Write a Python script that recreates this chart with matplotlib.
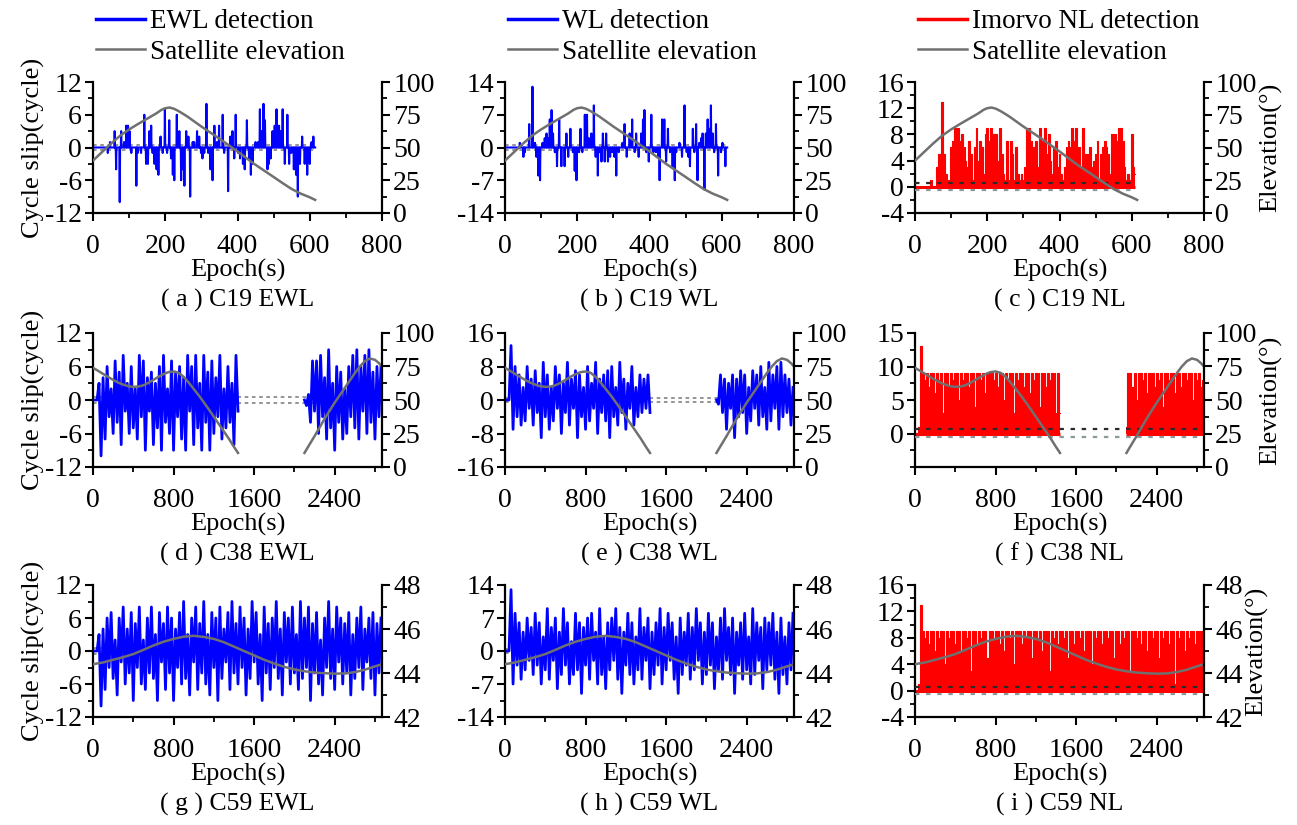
import numpy as np
import matplotlib
matplotlib.use("Agg")
import matplotlib.pyplot as plt
from matplotlib.lines import Line2D
from matplotlib.ticker import MultipleLocator, FixedLocator

plt.rcParams['font.family'] = ['Liberation Serif', 'DejaVu Serif']
plt.rcParams['font.size'] = 18
plt.rcParams['axes.unicode_minus'] = False
plt.rcParams['axes.linewidth'] = 1.6

BLUE = '#0000ff'
RED = '#ff0000'
GRAY = '#707070'

# ---------------- C19 (1 s sampling, 0-615 s) ----------------
c19_end = 615
ewl19_t = [41, 47, 60, 64, 74, 78, 86, 92, 97, 101, 106, 120, 124, 133, 142, 147, 152, 156, 161, 165,
           170, 176, 181, 187, 193, 199, 205, 211, 216, 221, 225, 232, 239, 244, 248, 253, 258, 264, 269, 276,
           280, 288, 294, 299, 303, 308, 314, 319, 325, 331, 336, 343, 349, 359, 363, 374, 380, 386, 391, 395,
           402, 407, 415, 420, 426, 432, 437, 442, 450, 457, 462, 467, 472, 476, 483, 487, 492, 497, 503, 508,
           515, 520, 525, 531, 538, 543, 549, 556, 562, 567, 573, 579, 586, 593, 600, 605, 610]
ewl19_v = [-1, 1, 3, -4, -10, 3, 1, 4, 4, 3, -1, -7, -1, -1, 6, -3, -3, 3, 4, -1,
           -3, -4, -5, 2, -1, 7, -1, 5, -2, -5, -6, 6, 3, -6, -4, -7, 3, 2, -9, 1,
           1, 3, 2, -1, -2, -1, 8, -1, -4, -6, 4, 1, 4, 6, -1, -8, 2, 3, -2, 6,
           -1, -2, -3, -4, 5, -2, -5, -3, 1, 1, 7, 3, 8, 5, -4, -3, -2, 3, 4, 7,
           4, 3, 7, -3, 6, -3, -1, -4, -5, -9, -3, 2, -3, -5, -3, 1, 2]
wl19_t = [41, 51, 55, 67, 76, 83, 87, 92, 97, 104, 110, 115, 119, 124, 129, 133, 138, 144, 150, 156,
          165, 170, 175, 181, 188, 193, 198, 205, 209, 214, 221, 227, 232, 239, 246, 251, 257, 262, 267, 271,
          276, 280, 285, 291, 297, 303, 308, 315, 325, 331, 337, 345, 352, 359, 363, 370, 377, 382, 386, 391,
          398, 405, 411, 418, 424, 428, 435, 441, 446, 451, 457, 464, 470, 474, 483, 490, 497, 503, 508, 512,
          520, 524, 529, 533, 538, 543, 547, 552, 556, 561, 566, 570, 575, 579, 584, 590, 598, 602, 610]
wl19_v = [1, -2, -1, 5, 13, 1, -2, -6, -7, 1, 2, 3, 2, 6, 8, 3, -1, -4, 6, -4,
          -4, 3, -2, 4, -1, -5, -7, -1, 4, -1, 7, 7, 2, 3, 9, -2, -6, -1, -3, 3,
          -3, 3, -3, -2, -1, -2, -6, -1, 1, 5, -2, 3, 6, -1, 3, -2, 3, 6, 8, -1,
          -3, 7, -1, -1, -2, -7, 6, 6, -3, 4, -1, -4, -7, -1, 1, -2, 9, -1, -2, -4,
          4, -1, 5, -7, 1, 2, 3, -9, 3, 6, 4, 9, 3, -1, 5, -6, -1, 1, -4]
nl19_step = 5
nl19_v = [0, 0, 0, 0, 0, 0, 0, 0, 0, 1, 0, 0, 3, 5, 5, 13, 5, 2, 1, 1,
          6, 7, 9, 8, 9, 7, 8, 6, 4, 3, 7, 5, 1, 6, 9, 4, 7, 6, 2, 8,
          9, 7, 9, 8, 8, 8, 4, 9, 5, 2, 1, 7, 1, 7, 5, 1, 6, 2, 1, 2,
          1, 3, 9, 9, 7, 3, 6, 7, 3, 9, 6, 7, 9, 5, 8, 4, 2, 6, 7, 3,
          5, 2, 1, 3, 6, 7, 6, 9, 7, 9, 4, 6, 3, 9, 5, 4, 5, 6, 3, 4,
          5, 7, 1, 5, 6, 7, 6, 5, 2, 8, 8, 8, 7, 9, 9, 7, 3, 1, 2, 1,
          8, 3, 2]
elev19_t = [0, 25, 50, 75, 100, 125, 150, 175, 190, 200, 212, 225, 240, 262, 300, 354, 400, 446,
            500, 525, 550, 575, 600, 615]
elev19_v = [40, 46.5, 53, 59, 63.8, 68, 72, 76, 78.8, 80, 80.5, 79.5, 77.3, 73.5, 66, 56, 47, 37.5,
            27.5, 22.8, 18.3, 14.8, 12, 10]

# ---------------- C38 (two arcs, 20 s samples) ----------------
c38_step = 20
c38_start = [0, 2100]
ewl38_v = [[0, 0, 0, 3, -10, 4, -7, 6, -3, 2, -6, 7, -4, 5, -8, 8, -2, 3, -6, 6, -5, 2, -7, 8,
            -3, 7, -9, 4, -2, 5, -8, 3, -5, 6, -9, 8, -4, 2, -6, 7, -9, 5, -3, 6, -7, 4, -9, 8,
            -2, 6, -8, 8, -5, 3, -9, 8, -4, 5, -9, 7, -6, 4, -3, 8, -7, 2, -5, 6, -4, 3, -8, 8, -2],
           [0, -1, 1, -4, 7, -2, 7, -6, 8, -3, 4, -7, 9, -5, 3, -9, 6, -4, 5, -7, 2, -6, 6, -3,
            8, -5, 9, -7, 6, -2, 8, -6, 9, -4, 5, -7, 6, -3, 6]]
wl38_v = [[0, 0, 0, 13, -7, 8, -4, 6, -6, 3, -5, 8, -2, 5, -6, 7, -3, 4, -9, 9, -4, 6, -7, 3,
           -5, 8, -2, 6, -8, 4, -3, 9, -6, 5, -2, 7, -9, 6, -4, 3, -7, 8, -5, 4, -2, 9, -8, 5,
           -3, 6, -5, 7, -9, 8, -4, 3, -6, 9, -3, 5, -7, 4, -2, 8, -6, 3, -4, 6, -3, 5, -2, 6, -3],
          [0, -1, 6, -3, 5, -7, 4, -2, 6, -9, 5, -4, 7, -3, 6, -8, 3, -5, 7, -2, 6, -6, 8, -4,
           3, -7, 9, -5, 6, -2, 8, -7, 9, -4, 6, -3, 5, -6, 3]]
nl38_v = [[0, 0, 1, 13, 9, 8, 9, 7, 9, 9, 6, 9, 8, 9, 3, 9, 9, 7, 9, 8, 9, 9, 5, 9,
           8, 9, 9, 7, 9, 9, 4, 9, 9, 8, 9, 6, 9, 9, 9, 8, 9, 7, 9, 9, 5, 9, 8, 9,
           9, 3, 9, 8, 9, 9, 7, 9, 9, 6, 9, 8, 9, 9, 4, 9, 9, 7, 9, 8, 9, 9, 3, 9, 3],
          [1, 9, 9, 7, 9, 5, 9, 9, 8, 9, 6, 9, 9, 9, 7, 9, 8, 9, 4, 9, 9, 8, 9, 9,
           6, 9, 9, 7, 9, 9, 8, 9, 9, 5, 9, 8, 9, 7, 8]]
elev38_t = [[0, 50, 100, 150, 200, 250, 300, 350, 400, 450, 500, 550, 600, 650, 700, 750, 800, 850,
             900, 950, 1000, 1050, 1100, 1150, 1200, 1250, 1300, 1350, 1400, 1440],
            [2100, 2150, 2200, 2250, 2300, 2350, 2400, 2450, 2500, 2550, 2600, 2650, 2700, 2750,
             2800, 2840, 2870]]
elev38_v = [[74, 71.8, 69.5, 67.2, 65, 63, 61.5, 60.3, 59.8, 60, 61, 62.8, 65, 67.3, 69.3, 70.8, 71.3,
             70.3, 67.3, 63, 58.3, 53.5, 48.3, 43, 37.5, 32, 26.5, 21, 15, 10.5],
            [10.5, 16.8, 23, 29.5, 36, 42, 48, 53.5, 59, 64.5, 70, 75, 79, 81, 80, 77.5, 75]]

# ---------------- C59 (20 s samples, 0-2860 s) ----------------
c59_step = 20
ewl59_v = [0, 0, 0, 3, -10, 4, -7, 6, -3, 7, -5, 2, -8, 6, -2, 8, -6, 4, -4, 7, -9, 5, -3, 8,
           -6, 2, -7, 6, -4, 8, -5, 3, -9, 7, -2, 5, -7, 8, -4, 6, -9, 4, -3, 7, -6, 9, -5, 3,
           -8, 6, -2, 8, -7, 5, -4, 9, -6, 3, -8, 7, -3, 6, -9, 8, -5, 4, -2, 7, -7, 9, -4, 5,
           -6, 8, -3, 6, -8, 4, -5, 9, -2, 7, -6, 3, -9, 8, -4, 5, -7, 6, -3, 9, -5, 4, -8, 7,
           -2, 6, -6, 8, -4, 3, -7, 9, -5, 6, -3, 8, -9, 5, -4, 7, -6, 2, -8, 6, -3, 9, -5, 4,
           -7, 8, -2, 6, -6, 5, -4, 7, -8, 3, -5, 6, -3, 8, -7, 4, -2, 6, -5, 7, -8, 5, -4, 6]
wl59_v = [0, 0, 0, 13, -7, 8, -3, 6, -6, 4, -4, 7, -2, 5, -5, 8, -3, 6, -7, 3, -4, 9, -6, 5,
          -2, 7, -8, 4, -5, 9, -3, 6, -7, 2, -5, 8, -4, 6, -9, 5, -3, 7, -6, 8, -2, 4, -7, 9,
          -5, 3, -8, 6, -4, 7, -2, 9, -6, 5, -9, 4, -3, 8, -5, 6, -7, 3, -4, 9, -6, 5, -2, 7,
          -8, 4, -5, 6, -3, 9, -7, 5, -4, 8, -2, 6, -6, 3, -9, 7, -5, 4, -3, 8, -6, 5, -4, 9,
          -2, 6, -7, 4, -5, 8, -3, 6, -8, 3, -4, 7, -6, 9, -2, 5, -5, 7, -9, 4, -3, 6, -6, 8,
          -4, 3, -7, 9, -5, 6, -2, 5, -8, 7, -4, 6, -3, 8, -6, 4, -9, 7, -5, 3, -7, 6, -4, 8]
nl59_v = [0, 0, 1, 13, 9, 8, 9, 7, 9, 9, 6, 9, 8, 9, 9, 4, 9, 8, 9, 9, 7, 9, 9, 6,
          9, 9, 8, 9, 3, 9, 9, 7, 9, 8, 9, 9, 5, 9, 9, 8, 9, 9, 7, 9, 6, 9, 9, 8,
          9, 4, 9, 9, 9, 7, 9, 8, 9, 9, 5, 9, 9, 8, 9, 6, 9, 9, 9, 3, 9, 8, 9, 7,
          9, 9, 8, 9, 5, 9, 9, 7, 9, 9, 8, 9, 6, 9, 9, 9, 4, 9, 8, 9, 9, 7, 9, 9,
          8, 9, 9, 5, 9, 9, 7, 9, 8, 9, 9, 3, 9, 9, 8, 9, 7, 9, 9, 6, 9, 9, 8, 9,
          9, 5, 9, 8, 9, 9, 7, 9, 9, 1, 9, 8, 9, 9, 6, 9, 8, 9, 9, 7, 9, 9, 9, 8]
elev59_t = [0, 100, 200, 300, 400, 500, 600, 700, 800, 900, 1000, 1100, 1200, 1300, 1400, 1500,
            1600, 1700, 1800, 1900, 2000, 2100, 2200, 2300, 2400, 2500, 2600, 2700, 2800, 2870]
elev59_v = [44.4, 44.48, 44.6, 44.72, 44.86, 45.05, 45.25, 45.42, 45.55, 45.65, 45.69, 45.64, 45.55,
            45.4, 45.2, 45.0, 44.8, 44.6, 44.43, 44.28, 44.16, 44.08, 44.02, 43.99, 43.97, 43.98,
            44.04, 44.15, 44.3, 44.4]

thr_wl = [0.5, -0.5]
thr_nl = [0.6, -0.5]

captions = [["( a ) C19 EWL", "( b ) C19 WL", "( c ) C19 NL"],
            ["( d ) C38 EWL", "( e ) C38 WL", "( f ) C38 NL"],
            ["( g ) C59 EWL", "( h ) C59 WL", "( i ) C59 NL"]]
legend_labels = ["EWL detection", "WL detection", "Imorvo NL detection"]


def spikes_1s(t, v, end):
    x = np.arange(end + 1)
    y = np.zeros(end + 1)
    y[t] = v
    return x, y


def sampled(start, step, v):
    return start + step * np.arange(len(v)), np.array(v, dtype=float)


# detection segments per panel [row][col]
det = [
    [[spikes_1s(ewl19_t, ewl19_v, c19_end)], [spikes_1s(wl19_t, wl19_v, c19_end)],
     [sampled(0, nl19_step, nl19_v)]],
    [[sampled(s, c38_step, v) for s, v in zip(c38_start, ewl38_v)],
     [sampled(s, c38_step, v) for s, v in zip(c38_start, wl38_v)],
     [sampled(s, c38_step, v) for s, v in zip(c38_start, nl38_v)]],
    [[sampled(0, c59_step, ewl59_v)], [sampled(0, c59_step, wl59_v)], [sampled(0, c59_step, nl59_v)]],
]
elev = [[(elev19_t, elev19_v)],
        list(zip(elev38_t, elev38_v)),
        [(elev59_t, elev59_v)]]

left_ylim = [[(-12, 12), (-14, 14), (-4, 16)],
             [(-12, 12), (-16, 16), (-5, 15)],
             [(-12, 12), (-14, 14), (-4, 16)]]
left_major = [[6, 7, 4], [6, 8, 5], [6, 7, 4]]
right_ylim = [(0, 100), (0, 100), (42, 48)]
right_major = [25, 25, 2]
xlims = [(0, 800), (0, 2870), (0, 2870)]
x_major = [200, 800, 800]

W, H = 1297, 825
fig = plt.figure(figsize=(W / 100, H / 100), dpi=100)
col_left = [93, 505, 915]
col_w = 289
row_top = [82, 333, 585]
row_h = [131, 134, 132]

for r in range(3):
    for c in range(3):
        ax = fig.add_axes([col_left[c] / W, 1 - (row_top[r] + row_h[r]) / H, col_w / W, row_h[r] / H])
        ax2 = ax.twinx()
        nl = (c == 2)

        x_all = []
        for x, y in det[r][c]:
            x_all.extend([x[0], x[-1]])
            if nl:
                ax.fill_between(x, 0, y, step='mid', color=RED, lw=0, zorder=2)
                ax.plot(x, y, drawstyle='steps-mid', color=RED, lw=0.8, zorder=2)
                ax.hlines(0, x[0], x[-1], colors=RED, lw=2.2, zorder=2)
            else:
                ax.plot(x, y, color=BLUE, lw=1.5 if r == 0 else 2.0, zorder=2)
        x0, x1 = min(x_all), max(x_all)
        if nl:
            ax.hlines(thr_nl[0], x0, x1, colors='#2a2a2a', linestyles=(0, (2, 3)), lw=1.6, zorder=3)
            ax.hlines(thr_nl[1], x0, x1, colors='#8a9a9a', linestyles=(0, (2, 3)), lw=1.6, zorder=3)
        else:
            for t in thr_wl:
                ax.hlines(t, x0, x1, colors='#8c8c8c', linestyles=(0, (2, 2)), lw=1.3, zorder=1)

        for et, ev in elev[r]:
            ax2.plot(et, ev, color=GRAY, lw=1.8)

        ax.set_xlim(*xlims[r])
        ax.xaxis.set_major_locator(MultipleLocator(x_major[r]))
        ax.xaxis.set_minor_locator(MultipleLocator(x_major[r] / 2))
        lo, hi = left_ylim[r][c]
        ax.set_ylim(lo, hi)
        m = left_major[r][c]
        if (r, c) == (1, 2):
            ax.yaxis.set_major_locator(FixedLocator([0, 5, 10, 15]))
            ax.yaxis.set_minor_locator(FixedLocator([-5, -2.5, 2.5, 7.5, 12.5]))
        else:
            ax.yaxis.set_major_locator(MultipleLocator(m))
            ax.yaxis.set_minor_locator(MultipleLocator(m / 2))
        ax2.set_ylim(*right_ylim[r])
        ax2.yaxis.set_major_locator(MultipleLocator(right_major[r]))
        ax2.yaxis.set_minor_locator(MultipleLocator(right_major[r] / 2))

        ax.spines['top'].set_visible(False)
        ax.spines['right'].set_visible(False)
        for s in ['top', 'left', 'bottom']:
            ax2.spines[s].set_visible(False)
        ax2.spines['right'].set_linewidth(1.6)
        for a in (ax, ax2):
            a.tick_params(which='major', direction='out', length=6, width=1.5, labelsize=20, pad=2)
            a.tick_params(which='minor', direction='out', length=3.5, width=1.3)
        ax.tick_params(axis='x', which='major', pad=9)

        ax.set_xlabel('Epoch(s)', fontsize=19, labelpad=0)
        ax.annotate(captions[r][c], xy=(0.5, 0), xycoords='axes fraction', xytext=(0, -63),
                    textcoords='offset points', ha='center', va='center', fontsize=18.5)
        if c == 0:
            ax.set_ylabel('Cycle slip(cycle)', fontsize=19, labelpad=0)
        if c == 2:
            ax2.set_ylabel('Elevation(°)', fontsize=19, labelpad=2)

        if r == 0:
            handles = [Line2D([], [], color=RED if nl else BLUE, lw=2.5),
                       Line2D([], [], color=GRAY, lw=1.8)]
            fig.legend(handles, [legend_labels[c], 'Satellite elevation'], loc='center left',
                       bbox_to_anchor=((col_left[c] + 3) / W, 1 - 37 / H), frameon=False,
                       fontsize=19.5, handlelength=1.8, handletextpad=0.2, labelspacing=0.2,
                       borderpad=0, borderaxespad=0)

fig.savefig('out.png', dpi=100)
